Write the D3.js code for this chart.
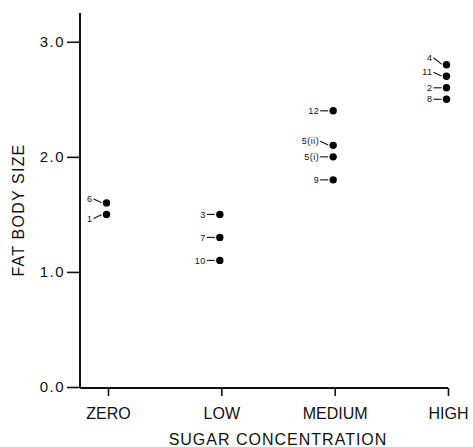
<!DOCTYPE html>
<html>
<head>
<meta charset="utf-8">
<script src="https://cdn.jsdelivr.net/npm/d3@7"></script>
<style>
  html, body { margin: 0; padding: 0; background: #fff; }
  svg { display: block; font-family: "Liberation Sans", Arial, Helvetica, sans-serif; }
</style>
</head>
<body>
<svg id="chart" width="473" height="447"></svg>
<script>
// Sugar concentration groups and fat body size per numbered sample
const categories = ["ZERO", "LOW", "MEDIUM", "HIGH"];
const zeroIds   = ["6", "1"];
const zeroVals  = [1.6, 1.5];
const lowIds    = ["3", "7", "10"];
const lowVals   = [1.5, 1.3, 1.1];
const mediumIds  = ["12", "5(ii)", "5(i)", "9"];
const mediumVals = [2.4, 2.1, 2.0, 1.8];
const highIds   = ["4", "11", "2", "8"];
const highVals  = [2.8, 2.7, 2.6, 2.5];
const yTicks = [0, 1, 2, 3];
const yTickLabels = ["0.0", "1.0", "2.0", "3.0"];

const groups = [
  { cat: "ZERO",   ids: zeroIds,   vals: zeroVals },
  { cat: "LOW",    ids: lowIds,    vals: lowVals },
  { cat: "MEDIUM", ids: mediumIds, vals: mediumVals },
  { cat: "HIGH",   ids: highIds,   vals: highVals }
];
const points = groups.flatMap(g => g.ids.map((id, i) => ({ cat: g.cat, id, v: g.vals[i] })));

// vertical shift of a label relative to its dot (slanted leader lines)
const labelLift = { "6": -4, "1": 4, "4": -7, "11": -4, "5(ii)": -4 };

const svg = d3.select("#chart");
const axisX = 80, axisY = 388;

const x = d3.scalePoint().domain(categories).range([108, 448]);
const y = d3.scaleLinear().domain([0, 3.25]).range([387, 13]);

// y axis
const yAxis = svg.append("g").attr("transform", `translate(${axisX},0)`)
  .call(d3.axisLeft(y).tickValues(yTicks).tickFormat((d, i) => yTickLabels[i]).tickSize(13).tickPadding(2));
yAxis.select(".domain").attr("d", `M0,${y(3.25)}V${axisY}`).attr("stroke", "#111").attr("stroke-width", 2);
yAxis.selectAll(".tick line").attr("stroke", "#111").attr("stroke-width", 1.6);
yAxis.selectAll(".tick text").attr("fill", "#111").attr("font-size", 15).attr("letter-spacing", 1.5)
  .attr("font-family", "'Liberation Sans', Arial, sans-serif");

// x axis
const xAxis = svg.append("g").attr("transform", `translate(0,${axisY})`)
  .call(d3.axisBottom(x).tickSize(8).tickPadding(8));
xAxis.select(".domain").attr("d", `M${axisX},0H${x("HIGH")}`).attr("stroke", "#111").attr("stroke-width", 2);
xAxis.selectAll(".tick line").attr("stroke", "#111").attr("stroke-width", 1.6);
xAxis.selectAll(".tick text").attr("fill", "#111").attr("font-size", 16).attr("dy", "0.95em")
  .attr("font-family", "'Liberation Sans', Arial, sans-serif");

// axis titles
svg.append("text")
  .attr("x", 278).attr("y", 445)
  .attr("text-anchor", "middle").attr("font-size", 16).attr("letter-spacing", 1).attr("fill", "#111")
  .text("SUGAR CONCENTRATION");
svg.append("text")
  .attr("transform", `translate(24,210) rotate(-90)`)
  .attr("text-anchor", "middle").attr("font-size", 16).attr("letter-spacing", 1.2).attr("fill", "#111")
  .text("FAT BODY SIZE");

// points with numbered labels and leader lines
const pt = svg.append("g").selectAll("g").data(points).join("g")
  .attr("transform", d => `translate(${x(d.cat) - 1.5},${y(d.v)})`);

pt.append("circle").attr("r", 3.7).attr("fill", "#000");

pt.append("line")
  .attr("x1", -13).attr("y1", d => labelLift[d.id] || 0)
  .attr("x2", -5).attr("y2", d => (labelLift[d.id] || 0) * 0.1)
  .attr("stroke", "#111").attr("stroke-width", 1.1);

pt.append("text")
  .attr("x", -14).attr("y", d => labelLift[d.id] || 0)
  .attr("dy", "0.35em").attr("text-anchor", "end")
  .attr("font-size", 9).attr("letter-spacing", 0.5).attr("fill", "#111")
  .text(d => d.id);
</script>
</body>
</html>
